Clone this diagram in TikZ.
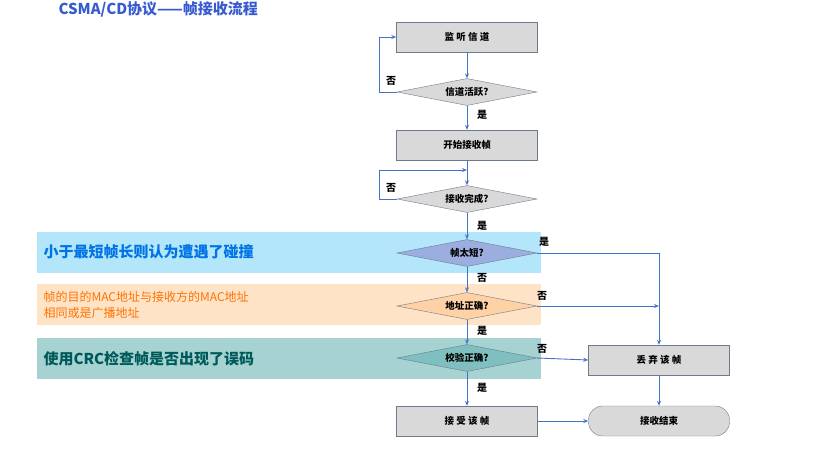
\documentclass[tikz,border=0pt]{standalone}
\usepackage{fontspec}
\setmainfont{Noto Sans CJK SC}
\usetikzlibrary{shapes.geometric,arrows.meta}
\definecolor{ln}{HTML}{4472C4}
\definecolor{bd}{HTML}{6D7B8D}
\definecolor{gf}{HTML}{D9D9D9}
\begin{document}
\begin{tikzpicture}[x=1pt,y=-1pt,
 box/.style={draw=bd,fill=gf,minimum width=141pt,minimum height=30pt,inner sep=0,font=\bfseries\fontsize{9.5}{10}\selectfont},
 dia/.style={draw=bd,fill=gf,diamond,aspect=5.2,minimum width=140pt,minimum height=27pt,inner sep=0,font=\bfseries\fontsize{9.5}{10}\selectfont},
 lab/.style={font=\bfseries\fontsize{10}{11}\selectfont},
 ar/.style={draw=ln,line width=0.9pt,-{Stealth[length=5pt,width=4pt]}},
 band/.style={minimum width=504pt,minimum height=41pt,inner sep=0,anchor=north west}]
\useasboundingbox (0,0) rectangle (838,467);
\node[anchor=west,text=ln!80!blue,font=\bfseries\fontsize{15}{16}\selectfont] (title) at (55,9) {CSMA/CD协议——帧接收流程};
\node[band,fill=cyan!30] (b1) at (37,232) {};
\node[band,fill=orange!22] (b2) at (37,284) {};
\node[band,fill=teal!35] (b3) at (37,338) {};
\node[anchor=west,text=blue!50!cyan!90!black,font=\bfseries\fontsize{15}{17}\selectfont] (t1) at (40,252) {小于最短帧长则认为遭遇了碰撞};
\node[anchor=west,align=left,text=orange!90!red,font=\fontsize{12}{16}\selectfont] (t2) at (40,305) {帧的目的MAC地址与接收方的MAC地址\\相同或是广播地址};
\node[anchor=west,text=teal!70!black,font=\bfseries\fontsize{15}{17}\selectfont] (t3) at (40,359) {使用CRC检查帧是否出现了误码};

\node[box] (listen) at (467,37) {监 听 信 道};
\node[dia] (active) at (467,92) {信道活跃?};
\node[box] (start) at (467,145) {开始接收帧};
\node[dia] (done) at (467,199) {接收完成?};
\node[dia,fill=cyan!40!blue!40] (short) at (467,253) {帧太短?};
\node[dia,fill=orange!35] (addr) at (467,306) {地址正确?};
\node[dia,fill=teal!50] (crc) at (467,358) {校验正确?};
\node[box] (accept) at (467,421) {接 受 该 帧};
\node[box] (drop) at (659,360) {丢 弃 该 帧};
\node[box,rounded corners=14pt] (end) at (659,421) {接收结束};
\coordinate (mid) at (467,170);
\coordinate (c1) at (659,253);
\coordinate (c2) at (659,306);

\draw[ar] (listen) -- (active);
\draw[ar] (active.west) -- ++(-17,0) |- (listen.west);
\draw[ar] (active) -- (start);
\draw[ar] (start) -- (done);
\draw[ar] (done.west) -- ++(-17,0) |- (mid);
\draw[ar] (done) -- (short);
\draw[ar] (short) -- (addr);
\draw[ar] (addr) -- (crc);
\draw[ar] (crc) -- (accept);
\draw[ar] (short.east) -- (c1) -- (drop.north);
\draw[ar] (addr.east) -- (c2);
\draw[ar] (crc.east) -- (drop.west);
\draw[ar] (drop) -- (end);
\draw[ar] (accept) -- (end);

\node[lab] (l1) at (391,81) {否};
\node[lab] (l2) at (482,115) {是};
\node[lab] (l3) at (391,188) {否};
\node[lab] (l4) at (482,226) {是};
\node[lab] (l5) at (544,242) {是};
\node[lab] (l6) at (482,278) {否};
\node[lab] (l7) at (542,296) {否};
\node[lab] (l8) at (482,331) {是};
\node[lab] (l9) at (542,349) {否};
\node[lab] (l10) at (482,388) {是};
\end{tikzpicture}
\end{document}
